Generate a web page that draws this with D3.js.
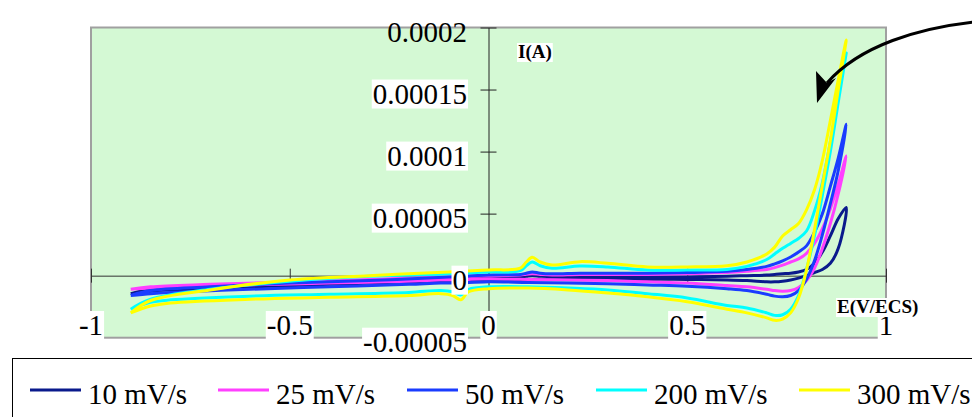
<!DOCTYPE html>
<html><head><meta charset="utf-8">
<script src="https://cdn.jsdelivr.net/npm/d3@7"></script>
<style>
html,body{margin:0;padding:0;background:#fff;}
svg{display:block;}
text{font-family:"Liberation Serif","Times New Roman",serif;}
</style></head>
<body>
<svg id="c" width="972" height="417"></svg>
<script>
// ---- data (current in units of 1e-5 A, potential in V/ECS) ----
const E_FWD = [-0.9,-0.85,-0.7,-0.5,-0.3,-0.1,0,0.08,0.095,0.11,0.13,0.16,0.23,0.3,0.4,0.5,0.6,0.65,0.7,0.72,0.74,0.76,0.78,0.8,0.82,0.84,0.86,0.88,0.9];
const E_REV = [0.9,0.88,0.86,0.84,0.82,0.8,0.78,0.76,0.74,0.72,0.7,0.65,0.6,0.5,0.4,0.3,0.2,0.1,0,-0.05,-0.07,-0.09,-0.12,-0.2,-0.4,-0.6,-0.8,-0.85,-0.9];

const I10_FWD = [-1.45,-1.1,-0.85,-0.6,-0.45,-0.25,-0.15,-0.1,-0.05,0.0,-0.05,-0.1,-0.1,-0.1,-0.1,-0.1,-0.05,0.0,0.05,0.1,0.15,0.2,0.3,0.5,1.0,1.9,3.2,4.6,5.5];
const I10_REV = [5.5,2.2,1.0,0.5,0.25,0.0,-0.2,-0.35,-0.45,-0.5,-0.5,-0.4,-0.35,-0.3,-0.3,-0.3,-0.3,-0.3,-0.3,-0.35,-0.45,-0.4,-0.4,-0.5,-0.7,-0.9,-1.15,-1.25,-1.45];

const I25_FWD = [-1.1,-0.9,-0.7,-0.5,-0.3,-0.1,0.0,0.05,0.12,0.15,0.1,0.05,0.1,0.1,0.1,0.15,0.25,0.35,0.5,0.65,0.85,1.1,1.35,1.8,2.6,3.8,5.4,7.4,9.65];
const I25_REV = [9.65,6.6,4.2,2.2,0.6,-0.4,-0.95,-1.2,-1.25,-1.2,-1.1,-0.9,-0.8,-0.6,-0.5,-0.4,-0.35,-0.3,-0.27,-0.3,-0.4,-0.35,-0.35,-0.45,-0.6,-0.75,-0.95,-1.0,-1.1];

const I50_FWD = [-1.6,-1.2,-0.9,-0.6,-0.4,-0.1,0.05,0.1,0.2,0.3,0.2,0.15,0.2,0.2,0.2,0.25,0.35,0.5,0.75,0.95,1.2,1.5,1.9,2.4,3.5,5.0,7.2,9.5,12.2];
const I50_REV = [12.2,8.5,5.8,3.3,1.2,-0.3,-1.2,-1.6,-1.7,-1.65,-1.5,-1.2,-1.05,-0.85,-0.75,-0.65,-0.6,-0.55,-0.5,-0.55,-0.7,-0.6,-0.6,-0.7,-0.9,-1.1,-1.35,-1.45,-1.6];

const I200_FWD = [-2.7,-1.9,-1.1,-0.45,-0.05,0.15,0.3,0.4,0.8,1.1,0.8,0.6,0.78,0.7,0.45,0.45,0.5,0.75,1.3,1.75,2.2,2.6,3.0,3.6,5.2,7.5,10.8,14.4,17.95];
const I200_REV = [17.95,14.0,10.0,6.5,3.2,0.5,-1.6,-2.7,-3.15,-3.2,-3.0,-2.6,-2.4,-1.8,-1.45,-1.15,-1.0,-0.9,-0.9,-1.1,-1.55,-1.3,-1.2,-1.35,-1.5,-1.65,-1.95,-2.15,-2.7];

const I300_FWD = [-3.0,-2.0,-1.15,-0.35,0.0,0.3,0.46,0.6,1.1,1.48,1.1,0.86,1.13,1.0,0.7,0.7,0.8,1.1,1.75,2.3,3.2,3.7,4.2,5.3,6.9,9.3,12.5,15.8,19.0];
const I300_REV = [19.0,15.0,10.9,7.3,3.7,0.46,-1.8,-3.0,-3.5,-3.6,-3.4,-3.0,-2.7,-2.1,-1.7,-1.4,-1.15,-1.0,-1.05,-1.3,-1.95,-1.6,-1.45,-1.6,-1.75,-1.9,-2.2,-2.45,-3.0];

const SERIES_NAMES = ["10 mV/s","25 mV/s","50 mV/s","200 mV/s","300 mV/s"];
const SERIES_FWD = [I10_FWD,I25_FWD,I50_FWD,I200_FWD,I300_FWD];
const SERIES_REV = [I10_REV,I25_REV,I50_REV,I200_REV,I300_REV];
const COLORS = ["#0a1a8c","#ff40ff","#1a3cff","#00ffff","#ffff00"];

const X_TICKS = [-1,-0.5,0,0.5,1];
const X_TICK_LABELS = ["-1","-0.5","0","0.5","1"];
const Y_TICKS = [-5,0,5,10,15,20];
const Y_TICK_LABELS = ["-0.00005","0","0.00005","0.0001","0.00015","0.0002"];

// ---- layout ----
const svg = d3.select("#c");
const P = {l:91, r:886, t:27.5, b:337.7};
const x = d3.scaleLinear().domain([-1,1]).range([P.l,P.r]);
const y = d3.scaleLinear().domain([-5,20]).range([P.b,P.t]);

svg.append("rect").attr("x",P.l).attr("y",P.t).attr("width",P.r-P.l).attr("height",P.b-P.t)
  .attr("fill","#d4f9d4").attr("stroke","#a0a0a0").attr("stroke-width",2);

// axes through origin
const x0 = x(0), y0 = y(0);
const yAxis = svg.append("g").attr("transform",`translate(${x0},0)`)
  .call(d3.axisLeft(y).tickValues(Y_TICKS).tickFormat("").tickSize(8).tickSizeOuter(0));
yAxis.select(".domain").attr("stroke","#222").attr("stroke-width",1);
yAxis.selectAll(".tick line").attr("x1",-8).attr("x2",8).attr("stroke","#222");

const xAxis = svg.append("g").attr("transform",`translate(0,${y0})`)
  .call(d3.axisBottom(x).tickValues(X_TICKS).tickFormat("").tickSize(6).tickSizeOuter(0));
xAxis.select(".domain").attr("stroke","#333").attr("stroke-width",1);
xAxis.selectAll(".tick line").attr("y1",-7).attr("y2",7).attr("stroke","#333");

// curves
const line = d3.line().x(d=>x(d[0])).y(d=>y(d[1])).curve(d3.curveCatmullRom.alpha(0.5));
SERIES_NAMES.forEach((name,i)=>{
  const pts = E_FWD.map((e,k)=>[e,SERIES_FWD[i][k]])
    .concat(E_REV.slice(1).map((e,k)=>[e,SERIES_REV[i][k+1]]));
  svg.append("path").attr("d",line(pts)).attr("fill","none")
    .attr("stroke",COLORS[i]).attr("stroke-width",3).attr("stroke-linejoin","round");
});

// tick labels with white boxes
const FS = 29;
function boxedText(g, tx, ty, str, anchor, size, weight, box){
  const t = g.append("text").attr("x",tx).attr("y",ty).attr("text-anchor",anchor)
    .attr("font-size",size).attr("font-weight",weight||"normal").attr("fill","#000").text(str);
  if(box){
    const bb = t.node().getBBox();
    g.insert("rect","text").attr("x",bb.x-1).attr("y",bb.y+2).attr("width",bb.width+2).attr("height",bb.height-3).attr("fill","#fff");
  }
  return t;
}
Y_TICKS.forEach((v,i)=>{
  const g = svg.append("g");
  boxedText(g, 467, y(v)+14, Y_TICK_LABELS[i], "end", FS, "normal", i<Y_TICKS.length-1);
});
X_TICKS.forEach((v,i)=>{
  const g = svg.append("g");
  boxedText(g, x(v), 335, X_TICK_LABELS[i], "middle", FS, "normal", true);
});

// axis titles
boxedText(svg.append("g"), 518, 58, "I(A)", "start", 19, "bold", true);
boxedText(svg.append("g"), 837, 313, "E(V/ECS)", "start", 19, "bold", true);

// arrow annotation
svg.append("path").attr("d","M974,22 C920,28 860,45 827,83").attr("fill","none")
  .attr("stroke","#000").attr("stroke-width",3);
svg.append("path").attr("d","M817,103 L816,71 L827,83 L836,78 Z").attr("fill","#000");

// legend
const lg = svg.append("g");
lg.append("rect").attr("x",12).attr("y",353).attr("width",970).attr("height",80).attr("fill","#fff");
lg.append("rect").attr("x",12.5).attr("y",358.5).attr("width",980).attr("height",80)
  .attr("fill","none").attr("stroke","#000").attr("stroke-width",1);
const LEG_X = [30,218,407,596,799];
SERIES_NAMES.forEach((name,i)=>{
  lg.append("line").attr("x1",LEG_X[i]).attr("x2",LEG_X[i]+51).attr("y1",390).attr("y2",390)
    .attr("stroke",COLORS[i]).attr("stroke-width",3);
  lg.append("text").attr("x",LEG_X[i]+58).attr("y",404).attr("font-size",FS).attr("fill","#000").text(name);
});
</script>
</body></html>
